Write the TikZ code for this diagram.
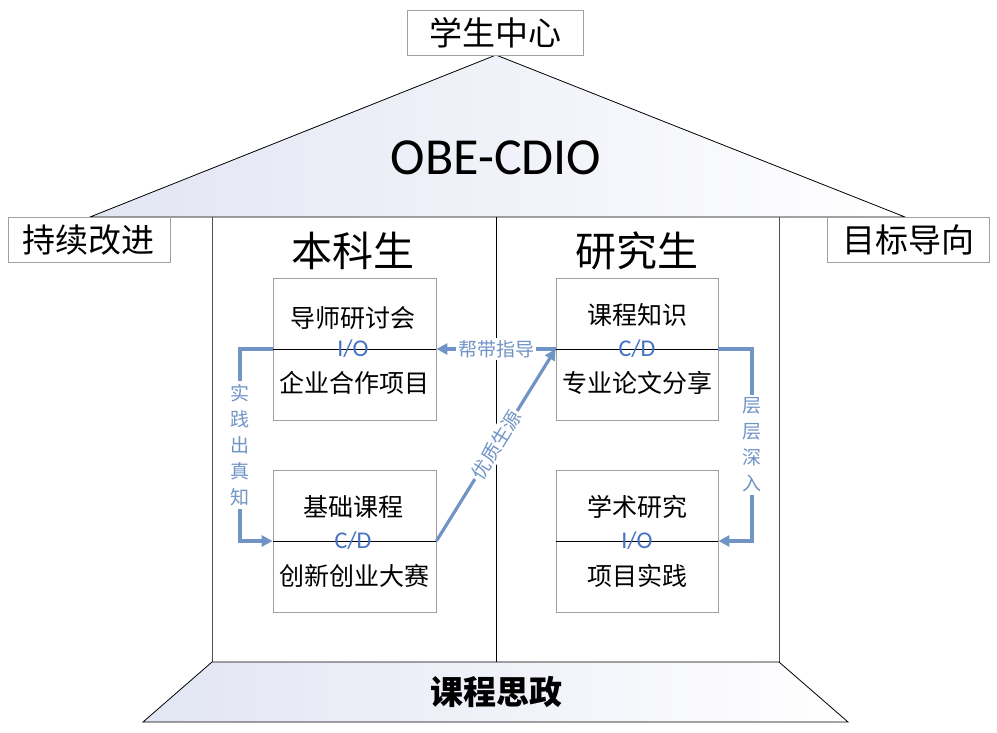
\documentclass[tikz,border=0pt]{standalone}
\usepackage{fontspec}
\setmainfont{Carlito}
\newfontfamily\cjk{Noto Sans CJK SC}
\usetikzlibrary{arrows.meta,calc}
\definecolor{arrblue}{RGB}{112,148,198}
\definecolor{txtblue}{RGB}{68,114,196}
\definecolor{boxgray}{RGB}{160,160,160}
\definecolor{wallgray}{RGB}{80,80,80}
\definecolor{lav}{RGB}{226,229,243}
\begin{document}
\begin{tikzpicture}[x=1pt,y=-1pt,
  lbox/.style={draw=boxgray,fill=white,line width=0.8pt,inner sep=0pt,minimum width=162pt,minimum height=45pt,font=\cjk\fontsize{33}{36}\selectfont},
  inbox/.style={draw=boxgray,fill=white,line width=0.8pt,inner sep=0pt,minimum width=163pt,minimum height=142pt},
  intext/.style={font=\cjk\fontsize{25}{28}\selectfont,inner sep=0pt},
  mid/.style={font=\fontsize{24}{26}\selectfont,text=txtblue,inner sep=0pt},
  arr/.style={draw=arrblue,line width=3.2pt,-{Triangle[length=11pt,width=11pt]}},
  lbl/.style={font=\cjk\fontsize{19}{26}\selectfont,text=arrblue,fill=white,inner sep=2pt},
  vlbl/.style={font=\cjk\fontsize{19}{26}\selectfont,text=arrblue,fill=white,inner sep=3pt,align=center}
]
\useasboundingbox (0,0) rectangle (997,732);
% roof
\shade[left color=lav,right color=white,draw=black,line width=0.8pt] (90,217) coordinate (rl) -- (496,55) coordinate (apex) -- (905,217) coordinate (rr) -- cycle;
\node[font=\fontsize{52}{56}\selectfont] (obe) at (496,158) {OBE-CDIO};
% top box
\node[lbox,minimum width=176pt] (top) at (495,32.5) {学生中心};
% walls
\draw[wallgray,line width=1pt] (212,217) coordinate (wl1) -- (212,662) coordinate (wl2);
\draw[wallgray,line width=1pt] (779,217) coordinate (wr1) -- (779,662) coordinate (wr2);
\draw[black,line width=1pt] (496,217) coordinate (dv1) -- (496,662) coordinate (dv2);
% side boxes
\node[lbox] (left) at (89,240) {持续改进};
\node[lbox] (right) at (908,240) {目标导向};
% headings
\node[font=\cjk\fontsize{41}{44}\selectfont,inner sep=0pt] (ug) at (353,251) {本科生};
\node[font=\cjk\fontsize{41}{44}\selectfont,inner sep=0pt] (pg) at (637,251) {研究生};
% inner boxes
\node[inbox] (b1) at (354.5,349) {};
\node[inbox] (b2) at (354.5,541) {};
\node[inbox,minimum width=162pt] (b3) at (637,349) {};
\node[inbox,minimum width=162pt] (b4) at (637,541) {};
\foreach \b in {b1,b2,b3,b4}{\draw[black,line width=1pt] (\b.west) -- (\b.east);}
\node[intext] (t1a) at (353,318) {导师研讨会};
\node[mid] (m1) at (353,349) {I/O};
\node[intext] (t1b) at (354,383) {企业合作项目};
\node[intext] (t2a) at (353,507) {基础课程};
\node[mid] (m2) at (353,541) {C/D};
\node[intext] (t2b) at (354,576) {创新创业大赛};
\node[intext] (t3a) at (637,315) {课程知识};
\node[mid] (m3) at (637,349) {C/D};
\node[intext] (t3b) at (637,383) {专业论文分享};
\node[intext] (t4a) at (637,507) {学术研究};
\node[mid] (m4) at (637,541) {I/O};
\node[intext] (t4b) at (637,576) {项目实践};
% connectors
\coordinate (lc1) at (240,349);
\coordinate (lc2) at (240,541);
\coordinate (rc1) at (752,349);
\coordinate (rc2) at (752,541);
\draw[arr] (b3.west) -- node[lbl] {帮带指导} (b1.east);
\draw[arr] (b2.east) -- node[lbl,sloped] {优质生源} (b3.west);
\draw[arr] (b1.west) -- (lc1) -- node[vlbl] {实\\践\\出\\真\\知} (lc2) -- (b2.west);
\draw[arr] (b3.east) -- (rc1) -- node[vlbl] {层\\层\\深\\入} (rc2) -- (b4.east);
% base
\shade[left color=lav,right color=white,draw=black,line width=0.8pt] (212,662) coordinate (bl1) -- (779,662) coordinate (br1) -- (848,722) coordinate (br2) -- (143,722) coordinate (bl2) -- cycle;
\node[font=\cjk\bfseries\fontsize{33}{36}\selectfont] (base) at (496,692) {课程思政};
\end{tikzpicture}
\end{document}
